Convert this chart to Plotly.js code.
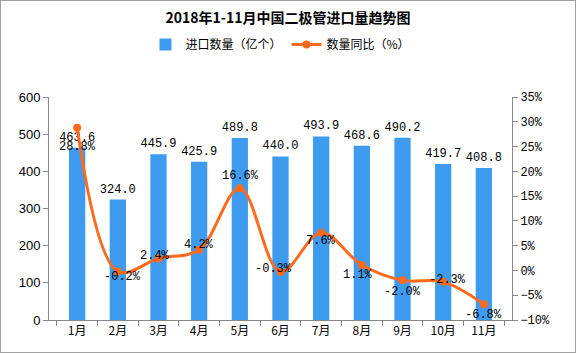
<!DOCTYPE html>
<html><head><meta charset="utf-8">
<script src="https://cdn.plot.ly/plotly-3.0.1.min.js"></script>
<style>html,body{margin:0;padding:0;background:#fff}#c{width:574px;height:351px;border:1px solid #a0a0a0}</style>
</head><body><div id="c"></div>
<script>
const months = ["1月","2月","3月","4月","5月","6月","7月","8月","9月","10月","11月"];
const importQty = [463.6,324.0,445.9,425.9,489.8,440.0,493.9,468.6,490.2,419.7,408.8];
const yoy = [28.8,-0.2,2.4,4.2,16.6,-0.3,7.6,1.1,-2.0,-2.3,-6.8];
const yoyLabels = ["28.8%","-0.2%","2.4%","4.2%","16.6%","-0.3%","7.6%","1.1%","-2.0%","-2.3%","-6.8%"];
const labelShift = [[0,-19],[5,-6],[-3,3],[0,5],[1,12],[-7,3],[0,-8],[-4,-10],[0,-12],[4,2],[0,-11]];

const numFont = {family:"Liberation Mono, DejaVu Sans Mono, monospace", size:12, color:"#000"};
const cjk = "Noto Sans CJK SC, sans-serif";

const traces = [
 {type:"bar", x:months, y:importQty, name:"进口数量（亿个）", marker:{color:"#3d9cf0"},
  text:importQty.map(v=>v.toFixed(1)), textposition:"outside", constraintext:"none", textfont:numFont, cliponaxis:false,
  hoverinfo:"skip"},
 {type:"scatter", mode:"lines+markers", x:months, y:yoy, yaxis:"y2", name:"数量同比（%）",
  line:{color:"#ff6a1f", width:3, shape:"spline", smoothing:1}, marker:{color:"#ff6a1f", size:8},
  cliponaxis:false}
];

const annotations = yoy.map((v,i)=>({x:months[i], y:v, xref:"x", yref:"y2", text:yoyLabels[i],
  showarrow:false, xshift:labelShift[i][0], yshift:labelShift[i][1], font:numFont}));

const layout = {
 width:574, height:351,
 margin:{l:48, r:63, t:96, b:32},
 paper_bgcolor:"#fff", plot_bgcolor:"#fff",
 title:{text:"<b>2018年1-11月中国二极管进口量趋势图</b>", font:{family:cjk, size:14, color:"#000"}, x:0.5, xanchor:"center", y:0.95, yanchor:"middle"},
 showlegend:true,
 legend:{orientation:"h", x:0.5, xanchor:"center", y:1.235, yanchor:"middle", font:{family:cjk, size:12, color:"#000"}, traceorder:"normal"},
 bargap:0.6,
 xaxis:{type:"category", showline:true, linecolor:"#888", linewidth:1, ticks:"outside", tickson:"boundaries", ticklen:5, tickcolor:"#888",
   tickfont:{family:cjk, size:12, color:"#000"}, showgrid:false, zeroline:false, fixedrange:true},
 yaxis:{range:[0,600], dtick:100, showline:true, linecolor:"#888", linewidth:1, ticks:"outside", ticklen:5, tickcolor:"#888",
   tickfont:{family:"Liberation Sans, Arial, sans-serif", size:13, color:"#000"}, showgrid:false, zeroline:false},
 yaxis2:{range:[-10,35], dtick:5, overlaying:"y", side:"right", ticksuffix:"%", showline:true, linecolor:"#888", linewidth:1,
   ticks:"outside", ticklen:5, tickcolor:"#888", tickfont:{family:"Liberation Mono, DejaVu Sans Mono, monospace", size:12, color:"#000"},
   showgrid:false, zeroline:false},
 annotations:annotations
};
Plotly.newPlot("c", traces, layout, {displayModeBar:false, staticPlot:true});
</script></body></html>
